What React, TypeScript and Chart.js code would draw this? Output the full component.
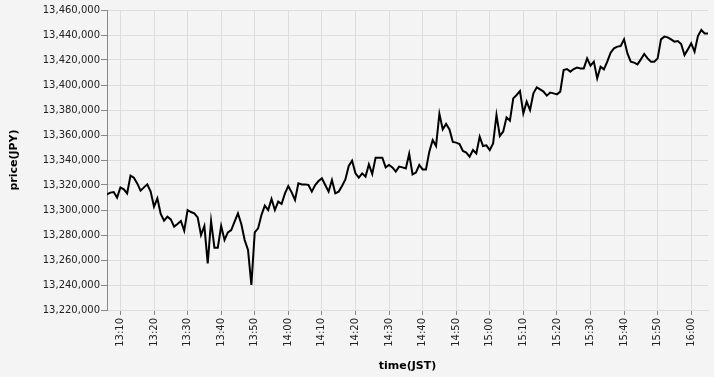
import { useEffect, useRef } from "react";
import { Chart, registerables } from "chart.js";

Chart.register(...registerables);

// ---- data ----
const TIME_START = "13:06"; // one sample per minute
const PRICES = [
  13312500, 13313900, 13314400, 13309900, 13318100, 13316500, 13313300, 13327500, 13325900, 13321300,
  13315500, 13318100, 13320500, 13314700, 13302700, 13309300, 13296800, 13291500, 13294700, 13292500,
  13286700, 13288800, 13291200, 13283500, 13300000, 13298400, 13297300, 13294100, 13280000, 13287200,
  13257300, 13291200, 13269900, 13269900, 13287200, 13276000, 13282100, 13284000, 13290700, 13297300,
  13288800, 13276000, 13268000, 13240000, 13282100, 13285300, 13296000, 13303500, 13300000, 13308800,
  13300000, 13306700, 13304800, 13313300, 13319200, 13314100, 13308000, 13321300, 13320500, 13320500,
  13320000, 13314700, 13320000, 13323200, 13325300, 13320000, 13314700, 13324000, 13313300, 13314700,
  13319200, 13324500, 13335200, 13339500, 13329300, 13325900, 13329300, 13326700, 13336500, 13328800,
  13341900, 13341900, 13341900, 13334100, 13336000, 13334100, 13330700, 13334700, 13334100, 13333300,
  13345000, 13328500, 13329900, 13336000, 13332500, 13332500, 13346700, 13356000, 13351200, 13377000,
  13364500, 13368800, 13364500, 13354400, 13353900, 13352800, 13347200, 13345900, 13342700, 13348000,
  13345300, 13358700, 13351200, 13351700, 13348000, 13353300, 13376000, 13359200, 13362700, 13374100,
  13371500, 13389300, 13392000, 13395200, 13377300, 13386700, 13380000, 13393300, 13398100, 13396500,
  13394700, 13391500, 13393900, 13393300, 13392500, 13394700, 13412000, 13412800, 13410700, 13412800,
  13413900, 13413300, 13413300, 13421300, 13415500, 13418700, 13405300, 13414700, 13412500, 13418700,
  13425900, 13429300, 13430700, 13431200, 13436500, 13425300, 13418700, 13417900, 13416500, 13420500,
  13424800, 13421300, 13418700, 13418700, 13421300, 13436500, 13438700, 13438100, 13436500, 13434700,
  13435200, 13432800, 13424000, 13428500, 13433300, 13426700, 13439200, 13444000, 13441300, 13441300,
];
const X_TICKS = [
  "13:10", "13:20", "13:30", "13:40", "13:50", "14:00", "14:10", "14:20", "14:30",
  "14:40", "14:50", "15:00", "15:10", "15:20", "15:30", "15:40", "15:50", "16:00",
];
const Y_MIN = 13220000;
const Y_MAX = 13460000;
const Y_STEP = 20000;
const X_TITLE = "time(JST)";
const Y_TITLE = "price(JPY)";

// ---- style ----
const BG = "#f4f4f4";
const GRID = "#dddddd";
const AXIS = "#888888";
const LABEL = "#222222";
const FONT = "DejaVu Sans";

const toMin = (s: string) => {
  const [h, m] = s.split(":").map(Number);
  return h * 60 + m;
};
const fmtMin = (v: number) => `${Math.floor(v / 60)}:${String(Math.round(v % 60)).padStart(2, "0")}`;

export default function App() {
  const ref = useRef<HTMLCanvasElement>(null);

  useEffect(() => {
    document.body.style.margin = "0";
    document.body.style.background = BG;
    const start = toMin(TIME_START);
    const points = PRICES.map((p, i) => ({ x: start + i, y: p }));
    Chart.defaults.font.family = FONT;

    const chart = new Chart(ref.current as HTMLCanvasElement, {
      type: "line",
      data: {
        datasets: [
          {
            data: points,
            borderColor: "#000000",
            borderWidth: 2,
            pointRadius: 0,
            tension: 0,
            fill: false,
          },
        ],
      },
      options: {
        animation: false,
        responsive: false,
        layout: { padding: { top: 10, right: 6, left: 0, bottom: 0 } },
        plugins: { legend: { display: false }, tooltip: { enabled: false } },
        scales: {
          x: {
            type: "linear",
            min: start,
            max: start + PRICES.length - 1,
            afterBuildTicks: (s: any) => {
              s.ticks = X_TICKS.map((t) => ({ value: toMin(t) }));
            },
            afterFit: (s: any) => {
              s.height = 67;
            },
            ticks: {
              callback: (v: any) => fmtMin(Number(v)),
              minRotation: 90,
              maxRotation: 90,
              autoSkip: false,
              padding: 3,
              color: LABEL,
              font: { size: 10, family: FONT },
            },
            grid: { color: GRID, tickColor: AXIS, tickLength: 5, lineWidth: 1 },
            border: { color: GRID },
            title: {
              display: true,
              text: X_TITLE,
              color: "#000000",
              font: { size: 11, weight: "bold", family: FONT },
              padding: { top: 0, bottom: 4.5 },
            },
          },
          y: {
            type: "linear",
            min: Y_MIN,
            max: Y_MAX,
            afterFit: (s: any) => {
              s.width = 107;
            },
            ticks: {
              stepSize: Y_STEP,
              callback: (v: any) => Number(v).toLocaleString("en-US"),
              padding: 1,
              color: LABEL,
              font: { size: 10, family: FONT },
            },
            grid: { color: GRID, tickColor: AXIS, tickLength: 6, lineWidth: 1 },
            border: { color: AXIS },
            title: {
              display: true,
              text: Y_TITLE,
              color: "#000000",
              font: { size: 11, weight: "bold", family: FONT },
              padding: { top: 7.5, bottom: 0 },
            },
          },
        },
      },
    });
    return () => chart.destroy();
  }, []);

  return (
    <div style={{ width: 714, height: 377, background: BG }}>
      <canvas ref={ref} width={714} height={377} style={{ display: "block" }} />
    </div>
  );
}
